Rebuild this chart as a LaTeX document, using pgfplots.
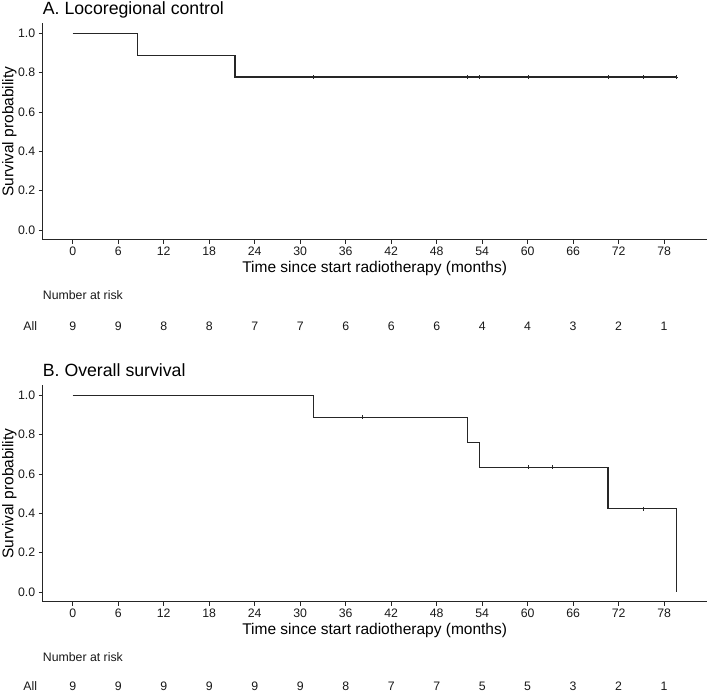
\documentclass[border=0pt]{standalone}
\usepackage{fontspec}
\setmainfont{Liberation Sans}
\usepackage{pgfplots}
\pgfplotsset{compat=1.18}

\newcommand\fs[1]{\fontsize{#1bp}{#1bp}\selectfont}

\pgfplotsset{
  km/.style={
    scale only axis, width=663.9bp, height=216.3bp,
    xmin=-3.96, xmax=83.6, ymin=-0.05, ymax=1.05,
    axis lines*=left,
    axis line style={-, line width=1.1bp, draw=black!85},
    xtick={0,6,...,78}, ytick={0,0.2,0.4,0.6,0.8,1},
    tick align=outside, major tick length=4bp,
    tick style={line width=0.9bp, draw=black!85},
    yticklabel style={/pgf/number format/fixed, /pgf/number format/fixed zerofill, /pgf/number format/precision=1},
    /pgf/number format/assume math mode=true,
    tick label style={font=\fs{12.3}, text=black!90},
    xlabel={Time since start radiotherapy (months)},
    ylabel={Survival probability},
    every axis x label/.style={at={([yshift=-33.2bp]axis description cs:0.5,0)}, anchor=base, inner sep=0pt, font=\fs{15.5}},
    every axis y label/.style={at={([xshift=-29.4bp]axis description cs:0,0.5)}, rotate=90, anchor=base, inner sep=0pt, font=\fs{15.5}},
    every axis title/.style={at={([yshift=8.5bp]axis description cs:0,1)}, anchor=base west, inner sep=0pt, font=\fs{17.7}},
  },
  kmline/.style={const plot, line width=1.1bp, draw=black!85, mark=none},
  cens/.style={only marks, mark=+, mark size=2bp, mark options={line width=0.8bp, draw=black!85}},
  risk/.style={
    scale only axis, width=663.9bp, height=20bp,
    xmin=-3.96, xmax=83.6, ymin=0, ymax=1,
    hide axis, clip=false,
  },
  risknums/.style={only marks, mark=*, mark size=0pt, mark options={draw=none, fill=none},
    nodes near coords, point meta=explicit symbolic,
    every node near coord/.append style={anchor=base, inner sep=0pt, font=\fs{12.3}, text=black!90}},
}

\begin{document}
\begin{tikzpicture}
\path[use as bounding box] (0,0) rectangle (710bp,693bp);

% ---------- A. Locoregional control ----------
\begin{axis}[km, at={(42.7bp,453.2bp)}, anchor=south west, title={A. Locoregional control}]
  \addplot[kmline] coordinates {(0,1) (8.57,0.8889) (21.4,0.7778) (79.6,0.7778)};
  \addplot[cens] coordinates {(31.7,0.7778) (52.1,0.7778) (53.6,0.7778) (60.1,0.7778) (70.6,0.7778) (75.3,0.7778) (79.6,0.7778)};
\end{axis}
\node[anchor=base west, inner sep=0pt, font=\fs{12.3}, text=black!90] at (42.7bp,393.5bp) {Number at risk};
\node[anchor=base east, inner sep=0pt, font=\fs{12.3}, text=black!90] at (37.3bp,362.6bp) {All};
\begin{axis}[risk, at={(42.7bp,362.6bp)}, anchor=south west]
  \addplot[risknums] table[meta=n] {
    x y n
    0 0 9
    6 0 9
    12 0 8
    18 0 8
    24 0 7
    30 0 7
    36 0 6
    42 0 6
    48 0 6
    54 0 4
    60 0 4
    66 0 3
    72 0 2
    78 0 1
  };
\end{axis}

% ---------- B. Overall survival ----------
\begin{axis}[km, at={(42.7bp,91.2bp)}, anchor=south west, title={B. Overall survival}]
  \addplot[kmline] coordinates {(0,1) (31.8,0.8889) (52.1,0.7619) (53.6,0.6349) (70.6,0.4233) (79.6,0) (79.6,0)};
  \addplot[cens] coordinates {(38.2,0.8889) (60.1,0.6349) (63.3,0.6349) (75.3,0.4233)};
\end{axis}
\node[anchor=base west, inner sep=0pt, font=\fs{12.3}, text=black!90] at (42.7bp,31.5bp) {Number at risk};
\node[anchor=base east, inner sep=0pt, font=\fs{12.3}, text=black!90] at (37.3bp,2.4bp) {All};
\begin{axis}[risk, at={(42.7bp,2.4bp)}, anchor=south west]
  \addplot[risknums] table[meta=n] {
    x y n
    0 0 9
    6 0 9
    12 0 9
    18 0 9
    24 0 9
    30 0 9
    36 0 8
    42 0 7
    48 0 7
    54 0 5
    60 0 5
    66 0 3
    72 0 2
    78 0 1
  };
\end{axis}
\end{tikzpicture}
\end{document}
